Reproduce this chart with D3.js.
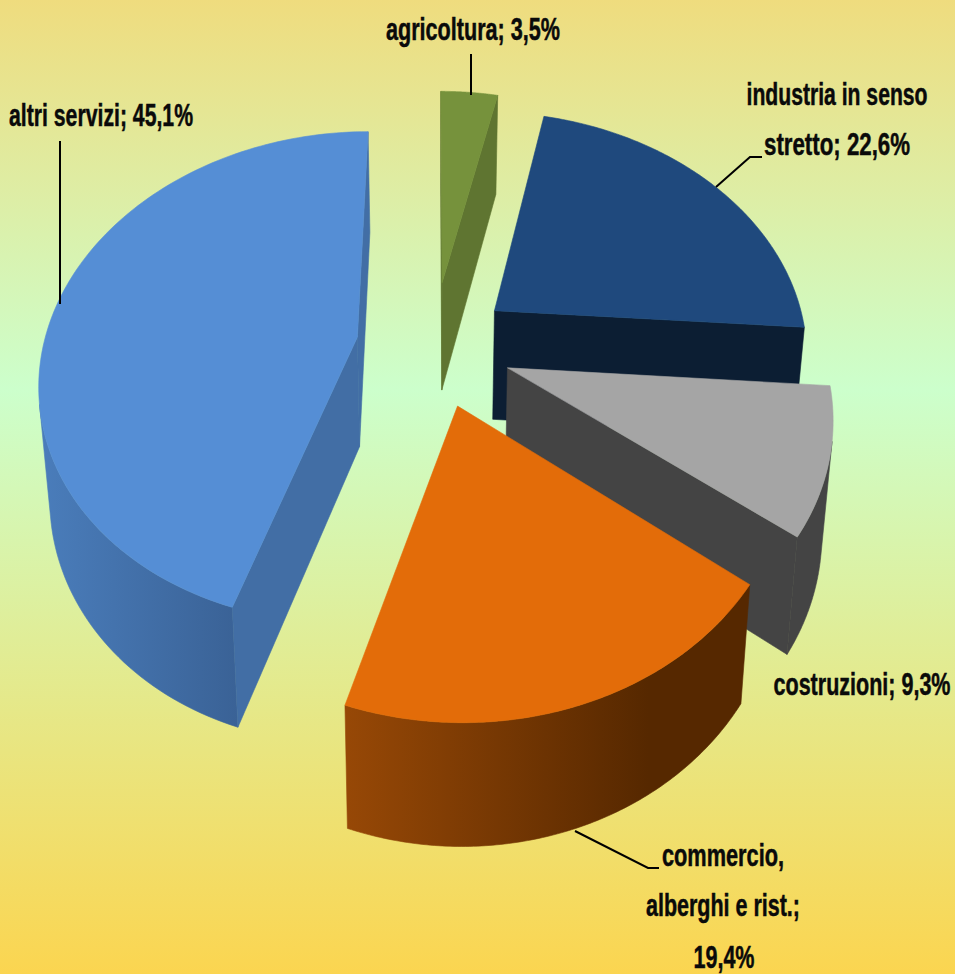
<!DOCTYPE html>
<html>
<head>
<meta charset="utf-8">
<script src="https://cdnjs.cloudflare.com/ajax/libs/d3/7.8.5/d3.min.js"></script>
<style>
  html, body { margin: 0; padding: 0; background: #fff; }
  svg { display: block; }
  text { font-family: "Liberation Sans", sans-serif; font-weight: 700; fill: #0a0a0a; stroke: #0a0a0a; stroke-width: 0.35px; }
</style>
</head>
<body>
<div id="chart"></div>
<script>
const categories = ['agricoltura', 'industria in senso stretto', 'costruzioni', 'commercio, alberghi e rist.', 'altri servizi']
const shares = [3.5, 22.6, 9.3, 19.4, 45.1]
const explodeBy = [0.275, 0.25, 0.25, 0.25, 0.245]
const topColors = ['#76923c', '#1f497d', '#a5a5a5', '#e36c09', '#558ed5']
const cutColors = ['#5f7531', '#0c1e33', '#444444', '#5a2a00', '#426ea5']
const wallLeft = ['#5f7531', '#0c1e33', '#444444', '#974806', '#4a7dbb']
const wallRight = ['#5f7531', '#0c1e33', '#444444', '#562800', '#3a6296']
// back to front
const drawOrder = [1, 0, 4, 2, 3]

// label lines: text, centre x, baseline y, width
const labelLines = [
  ['agricoltura; 3,5%', 473, 40, 174],
  ['industria in senso', 837, 105, 181],
  ['stretto; 22,6%', 837, 155, 146],
  ['altri servizi; 45,1%', 101, 126, 184],
  ['costruzioni; 9,3%', 862, 695, 177],
  ['commercio,', 723, 866, 122],
  ['alberghi e rist.;', 723, 916, 154],
  ['19,4%', 724, 968, 61]
]
const leaders = [
  [[471, 54], [471, 95]],
  [[60, 141], [60, 304]],
  [[762, 157], [750, 157], [716, 187]],
  [[575, 831], [648, 868], [659, 868]]
]

const width = 955
const height = 974

// flat disc seen in perspective
const cx = 433, cy = 346
const rx = 314, ry = 242
const persp = 0.165
const persp2 = 0.09
const depth = 110
const shrink = 0.972

const projectTop = ([u, v]) => {
  const w = 1 - persp * v
  return [cx + rx * u / w, cy + ry * v / w]
}
const projectBottom = ([u, v]) => {
  const w = 1 - persp * v
  return [cx + shrink * rx * u / w, cy + ry * v / w + depth / (1 - persp2 * v)]
}

const svg = d3.select('#chart').append('svg')
  .attr('width', width)
  .attr('height', height)

const defs = svg.append('defs')
const bg = defs.append('linearGradient')
  .attr('id', 'bg')
  .attr('x1', 0).attr('y1', 0).attr('x2', 0).attr('y2', 1)
bg.append('stop').attr('offset', '0%').attr('stop-color', '#efdc7e')
bg.append('stop').attr('offset', '40%').attr('stop-color', '#ccffcc')
bg.append('stop').attr('offset', '100%').attr('stop-color', '#fbd550')

svg.append('rect')
  .attr('width', width)
  .attr('height', height)
  .attr('fill', 'url(#bg)')

const arcs = d3.pie().sort(null)(shares)
const line = d3.line()
const closed = pts => line(pts) + 'Z'
const isVisible = (a, b, c, d) => d3.polygonArea([a, b, c, d]) > 0

const slices = svg.append('g')

drawOrder.forEach(i => {
  const arc = arcs[i]
  const mid = (arc.startAngle + arc.endAngle) / 2
  const ox = explodeBy[i] * Math.sin(mid)
  const oy = -explodeBy[i] * Math.cos(mid)
  const ground = a => [ox + Math.sin(a), oy - Math.cos(a)]
  const apex = [ox, oy]

  const angles = d3.range(0, 121).map(k => arc.startAngle + (arc.endAngle - arc.startAngle) * k / 120)
  const top = angles.map(a => projectTop(ground(a)))
  const bottom = angles.map(a => projectBottom(ground(a)))
  const apexTop = projectTop(apex)
  const apexBottom = projectBottom(apex)

  const g = slices.append('g').attr('class', 'slice').attr('data-name', categories[i])

  // outer wall, only the part facing us
  const visible = d3.range(0, 120).filter(k => isVisible(top[k], top[k + 1], bottom[k + 1], bottom[k]))
  if (visible.length) {
    const first = visible[0]
    const last = visible[visible.length - 1] + 1
    const t = top.slice(first, last + 1)
    const b = bottom.slice(first, last + 1)
    const xs = d3.extent(t.concat(b), p => p[0])
    const id = 'wall' + i
    const grad = defs.append('linearGradient')
      .attr('id', id)
      .attr('gradientUnits', 'userSpaceOnUse')
      .attr('x1', xs[0]).attr('y1', 0).attr('x2', xs[1]).attr('y2', 0)
    grad.append('stop').attr('offset', '0%').attr('stop-color', wallLeft[i])
    grad.append('stop').attr('offset', i === 3 ? '75%' : '100%').attr('stop-color', wallRight[i])
    g.append('path')
      .attr('d', closed(t.concat(b.slice().reverse())))
      .attr('fill', `url(#${id})`)
      .attr('stroke', `url(#${id})`)
      .attr('stroke-width', 0.6)
  }

  // the two cut faces
  const n = top.length - 1
  const cuts = [[apexTop, top[0], bottom[0], apexBottom], [top[n], apexTop, apexBottom, bottom[n]]]
  cuts.filter(q => isVisible(q[0], q[1], q[2], q[3])).forEach(q => {
    g.append('path')
      .attr('d', closed(q))
      .attr('fill', cutColors[i])
      .attr('stroke', cutColors[i])
      .attr('stroke-width', 0.6)
  })

  g.append('path')
    .attr('d', closed([apexTop].concat(top)))
    .attr('fill', topColors[i])
    .attr('stroke', topColors[i])
    .attr('stroke-width', 0.6)
})

svg.append('g').selectAll('path')
  .data(leaders)
  .enter().append('path')
  .attr('d', d => line(d))
  .attr('fill', 'none')
  .attr('stroke', '#000')
  .attr('stroke-width', 2)

// no condensed face installed: small size, stretched upward
svg.append('g').selectAll('text')
  .data(labelLines)
  .enter().append('text')
  .attr('transform', d => `translate(${d[1]},${d[2]}) scale(1,1.42)`)
  .attr('text-anchor', 'middle')
  .attr('font-size', 21.5)
  .attr('textLength', d => d[3])
  .attr('lengthAdjust', 'spacingAndGlyphs')
  .text(d => d[0])
</script>
</body>
</html>
